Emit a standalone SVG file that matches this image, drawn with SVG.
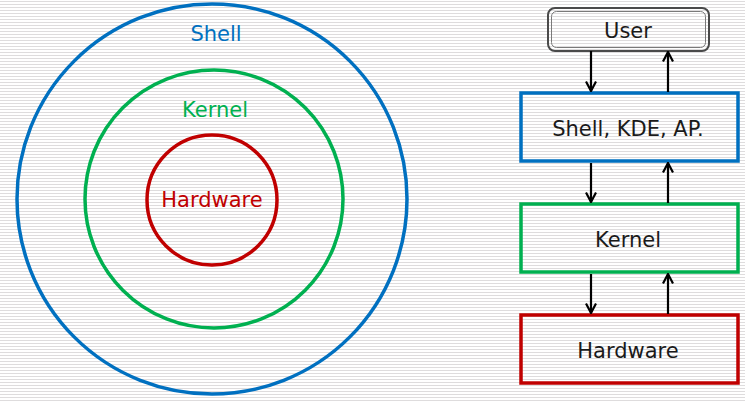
<svg xmlns="http://www.w3.org/2000/svg" width="745" height="402" viewBox="0 0 745 402">
  <defs>
    <pattern id="stripes" x="0" y="0" width="6" height="3" patternUnits="userSpaceOnUse">
      <rect x="0" y="0" width="6" height="3" fill="#ffffff"/>
      <rect x="0" y="1" width="6" height="1" fill="#dedcdd"/>
    </pattern>
    <marker id="head" viewBox="0 0 12 12" refX="11" refY="6" markerWidth="12" markerHeight="12" markerUnits="userSpaceOnUse" orient="auto">
      <path d="M1.5,1 L11,6 L1.5,11" fill="none" stroke="#000" stroke-width="2.2"/>
    </marker>
    <style>
      text { font-family: "DejaVu Sans", Verdana, sans-serif; font-size: 21px; text-anchor: middle; }
      .ring { fill: none; stroke-width: 3.5; }
      .box { fill: none; stroke-width: 3.5; }
      .arrow { stroke: #000; stroke-width: 2.2; fill: none; marker-end: url(#head); }
      .blue { stroke: #0070c0; }
      .green { stroke: #00b050; }
      .red { stroke: #c00000; }
      .tblue { fill: #0070c0; }
      .tgreen { fill: #00b050; }
      .tred { fill: #c00000; }
      .tblack { fill: #1a1a1a; }
    </style>
  </defs>
  <rect x="0" y="0" width="745" height="402" fill="url(#stripes)"/>

  <g id="shell-ring">
    <circle class="ring blue" cx="212" cy="199" r="195"/>
    <text class="tblue" x="216" y="41">Shell</text>
  </g>
  <g id="kernel-ring">
    <circle class="ring green" cx="214" cy="199" r="129"/>
    <text class="tgreen" x="215" y="117">Kernel</text>
  </g>
  <g id="hardware-ring">
    <circle class="ring red" cx="212" cy="200" r="65"/>
    <text class="tred" x="212" y="207">Hardware</text>
  </g>

  <g id="user">
    <rect x="548" y="8" width="161" height="43" rx="7" fill="none" stroke="#4a4a4a" stroke-width="2"/>
    <rect x="551.5" y="11.5" width="154" height="36" rx="5" fill="none" stroke="#7a7a7a" stroke-width="1"/>
    <text class="tblack" x="628" y="38">User</text>
  </g>
  <g id="shell-box">
    <rect class="box blue" x="521" y="93" width="217" height="68"/>
    <text class="tblack" x="628" y="136">Shell, KDE, AP.</text>
  </g>
  <g id="kernel-box">
    <rect class="box green" x="521" y="204" width="217" height="68"/>
    <text class="tblack" x="628" y="247">Kernel</text>
  </g>
  <g id="hardware-box">
    <rect class="box red" x="521" y="315" width="217" height="68"/>
    <text class="tblack" x="628" y="358">Hardware</text>
  </g>

  <g id="connectors">
    <line class="arrow" x1="591" y1="51" x2="591" y2="91"/>
    <line class="arrow" x1="668" y1="92" x2="668" y2="52"/>
    <line class="arrow" x1="591" y1="163" x2="591" y2="202"/>
    <line class="arrow" x1="668" y1="203" x2="668" y2="163"/>
    <line class="arrow" x1="591" y1="274" x2="591" y2="313"/>
    <line class="arrow" x1="668" y1="314" x2="668" y2="274"/>
  </g>
</svg>
